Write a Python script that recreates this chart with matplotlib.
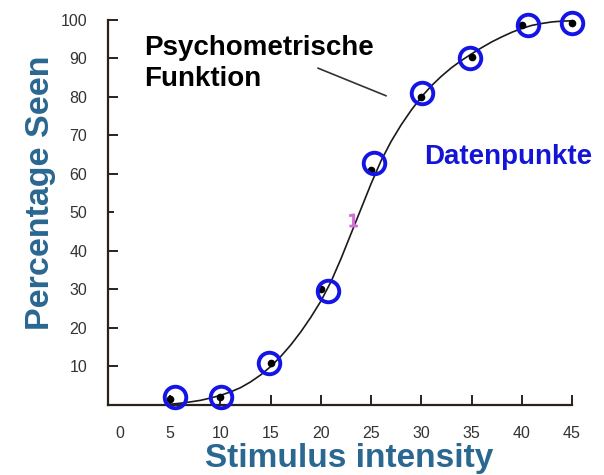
import matplotlib
matplotlib.use("Agg")
import matplotlib.pyplot as plt
import numpy as np

plt.rcParams['font.family'] = ['Liberation Sans', 'DejaVu Sans']

# measured data points (black dots)
stim = [5, 10, 15, 20, 25, 30, 35, 40, 45]
seen = [1.5, 2.2, 11, 30, 61, 80, 90.5, 98.7, 99.2]

# blue circles drawn around the points
circ_x = [5.5, 10.1, 14.8, 20.7, 25.3, 30.1, 34.8, 40.6, 45]
circ_y = [2.0, 2.2, 11, 29.7, 62.8, 81, 90.1, 98.7, 99.2]

# psychometric function
curve_x = [5, 6, 7, 8, 9, 10, 11, 12, 13, 14, 15, 16, 17, 18, 19, 20, 21, 22,
           23, 24, 25, 26, 27, 28, 29, 30, 31, 32, 33, 34, 35, 36, 37, 38, 39,
           40, 41, 42, 43, 44, 45]
curve_y = [0.2, 0.45, 0.8, 1.2, 1.8, 2.5, 3.4, 4.5, 6.0, 7.8, 10.0, 12.6, 15.6,
           19.0, 22.8, 27.0, 32.0, 38.0, 44.5, 51.0, 57.5, 63.5, 68.5, 72.8,
           76.6, 80.0, 82.9, 85.4, 87.6, 89.5, 91.2, 92.8, 94.3, 95.6, 96.8,
           97.8, 98.6, 99.1, 99.5, 99.7, 99.8]

xticks = [0, 5, 10, 15, 20, 25, 30, 35, 40, 45]
yticks = [10, 20, 30, 40, 50, 60, 70, 80, 90, 100]

fig = plt.figure(figsize=(6.04, 4.75), dpi=100)
ax = fig.add_axes([0.1788, 0.1474, 0.947 - 0.1788, 0.9579 - 0.1474])

axis_col = '#2b2219'
label_col = '#2a6791'

ax.plot(curve_x, curve_y, color='#1a1a1a', linewidth=1.2, clip_on=False, zorder=2)
ax.plot(stim, seen, 'o', color='black', markersize=4.5, clip_on=False, zorder=3)
ax.plot(circ_x, circ_y, 'o', markerfacecolor='none', markeredgecolor='#1414e6',
        markersize=15.5, markeredgewidth=2.8, clip_on=False, zorder=4)

# little magenta mark at the 50 % point
ax.plot([23.2], [48], marker='$1$', color='#d070d8', markersize=9, zorder=3)

ax.set_xlim(-1.2, 45)
ax.set_ylim(0, 100)

for s in ['top', 'right']:
    ax.spines[s].set_visible(False)
for s in ['left', 'bottom']:
    ax.spines[s].set_linewidth(1.6)
    ax.spines[s].set_color(axis_col)

ax.set_xticks(xticks)
ax.set_xticklabels([str(v) for v in xticks])
ax.set_yticks(yticks)
ax.set_yticklabels([str(v) for v in yticks])
ax.tick_params(axis='both', direction='in', length=7, width=1.4, color=axis_col,
               labelsize=11.5, labelcolor='#333333')
ax.tick_params(axis='x', pad=15)
ax.tick_params(axis='y', pad=15)
ax.xaxis.get_major_ticks()[0].tick1line.set_visible(False)
t50 = ax.yaxis.get_major_ticks()[4].tick1line
t50.set_color('#b0208a')
t50.set_markersize(4)

ax.set_ylabel('Percentage Seen', fontsize=24.5, fontweight='bold', color=label_col)
ax.yaxis.set_label_coords(-0.112, 0.55)
ax.set_xlabel('Stimulus intensity', fontsize=24, fontweight='bold', color=label_col)
ax.xaxis.set_label_coords(0.519, -0.1)

ax.text(2.4, 96, 'Psychometrische\nFunktion', fontsize=20, fontweight='bold',
        color='black', va='top', ha='left', linespacing=1.22)
ax.annotate('', xy=(26.5, 80.3), xytext=(19.7, 87.5),
            arrowprops=dict(arrowstyle='-', color='#333333', lw=1.2,
                            shrinkA=0, shrinkB=0))
ax.text(30.3, 62.5, 'Datenpunkte', fontsize=20, fontweight='bold',
        color='#1414d6', va='baseline', ha='left')

plt.savefig('out.png', dpi=100)
